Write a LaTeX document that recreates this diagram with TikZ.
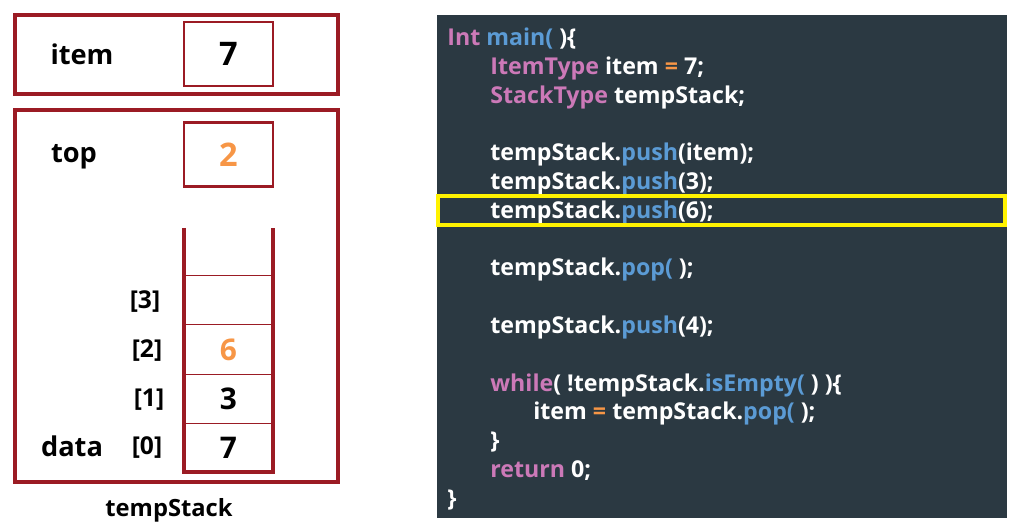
\documentclass[tikz,border=0pt]{standalone}
\usepackage{fontspec}
\setmainfont{Open Sans}
\definecolor{frame}{RGB}{155,27,36}
\definecolor{codebg}{RGB}{43,57,66}
\definecolor{kwcol}{RGB}{204,121,184}
\definecolor{fncol}{RGB}{91,155,213}
\definecolor{valcol}{RGB}{247,150,70}
\newcommand{\kw}[1]{\textcolor{kwcol}{#1}}
\newcommand{\fn}[1]{\textcolor{fncol}{#1}}
\newcommand{\op}[1]{\textcolor{valcol}{#1}}
\tikzset{
  outerbox/.style={draw=frame, line width=2pt},
  valbox/.style={draw=frame, line width=1.5pt, minimum width=1.78cm, minimum height=1.28cm, font=\fontsize{18.5}{20}\selectfont\bfseries},
  cell/.style={inner sep=0pt, minimum width=1.78cm, minimum height=0.98cm, font=\fontsize{17}{19}\selectfont\bfseries},
  stackwall/.style={draw=frame, line width=2.3pt},
  cellline/.style={draw=frame, line width=0.7pt},
  lbl/.style={font=\fontsize{15.5}{18}\selectfont\bfseries},
  idx/.style={font=\fontsize{14}{16}\selectfont\bfseries},
  codeline/.style={anchor=base west, text=white, inner sep=0pt, font=\fontsize{13.2}{15}\selectfont\bfseries},
  hilite/.style={draw=yellow, line width=2.3pt},
}
\begin{document}
\begin{tikzpicture}[x=0.02cm, y=-0.02cm]
\useasboundingbox (0,0) rectangle (1022,526);
% variable item
\draw[outerbox] (15,15) rectangle (338,94);
\node[lbl] (itemlbl) at (82,54) {item};
\node[valbox] (itembox) at (228.5,54) {7};
% stack object
\draw[outerbox] (15,110) rectangle (338,482);
\node[lbl] (toplbl) at (74,157) {top};
\node[valbox, text=valcol] (topbox) at (228.5,154.5) {2};
\node[cell] (c3) at (228.5,300) {};
\node[cell, text=valcol] (c2) at (228.5,349.5) {6};
\node[cell] (c1) at (228.5,399) {3};
\node[cell] (c0) at (228.5,448) {7};
\draw[cellline] (c3.north west) -- (c3.north east);
\draw[cellline] (c2.north west) -- (c2.north east);
\draw[cellline] (c1.north west) -- (c1.north east);
\draw[cellline] (c0.north west) -- (c0.north east);
\draw[stackwall] (184,228) -- (184,472) -- (273,472) -- (273,228);
\node[idx] (i3) at (145,302) {[3]};
\node[idx] (i2) at (147,351) {[2]};
\node[idx] (i1) at (149,400) {[1]};
\node[idx] (i0) at (147,448) {[0]};
\node[lbl] (datalbl) at (72,446) {data};
\node[idx, font=\fontsize{13.5}{16}\selectfont\bfseries] (stackname) at (169,510) {tempStack};
% code panel
\fill[codebg] (437,15) rectangle (1007,518);
\node[codeline] (l1) at (447,45.5) {\kw{Int} \fn{main(} )\{};
\node[codeline] (l2) at (490,74.3) {\kw{ItemType} item \op{=} 7;};
\node[codeline] (l3) at (490,103.1) {\kw{StackType} tempStack;};
\node[codeline] (l4) at (490,160.7) {tempStack.\fn{push}(item);};
\node[codeline] (l5) at (490,189.5) {tempStack.\fn{push}(3);};
\node[codeline] (l6) at (490,218.3) {tempStack.\fn{push}(6);};
\node[codeline] (l7) at (490,275.9) {tempStack.\fn{pop(} );};
\node[codeline] (l8) at (490,333.5) {tempStack.\fn{push}(4);};
\node[codeline] (l9) at (490,391.1) {\kw{while}( !tempStack.\fn{isEmpty(} ) )\{};
\node[codeline] (l10) at (533,419.9) {item \op{=} tempStack.\fn{pop(} );};
\node[codeline] (l11) at (490,448.7) {\}};
\node[codeline] (l12) at (490,477.5) {\kw{return} 0;};
\node[codeline] (l13) at (447,506.3) {\}};
\draw[hilite] (438,196) rectangle (1005,225);
\end{tikzpicture}
\end{document}
